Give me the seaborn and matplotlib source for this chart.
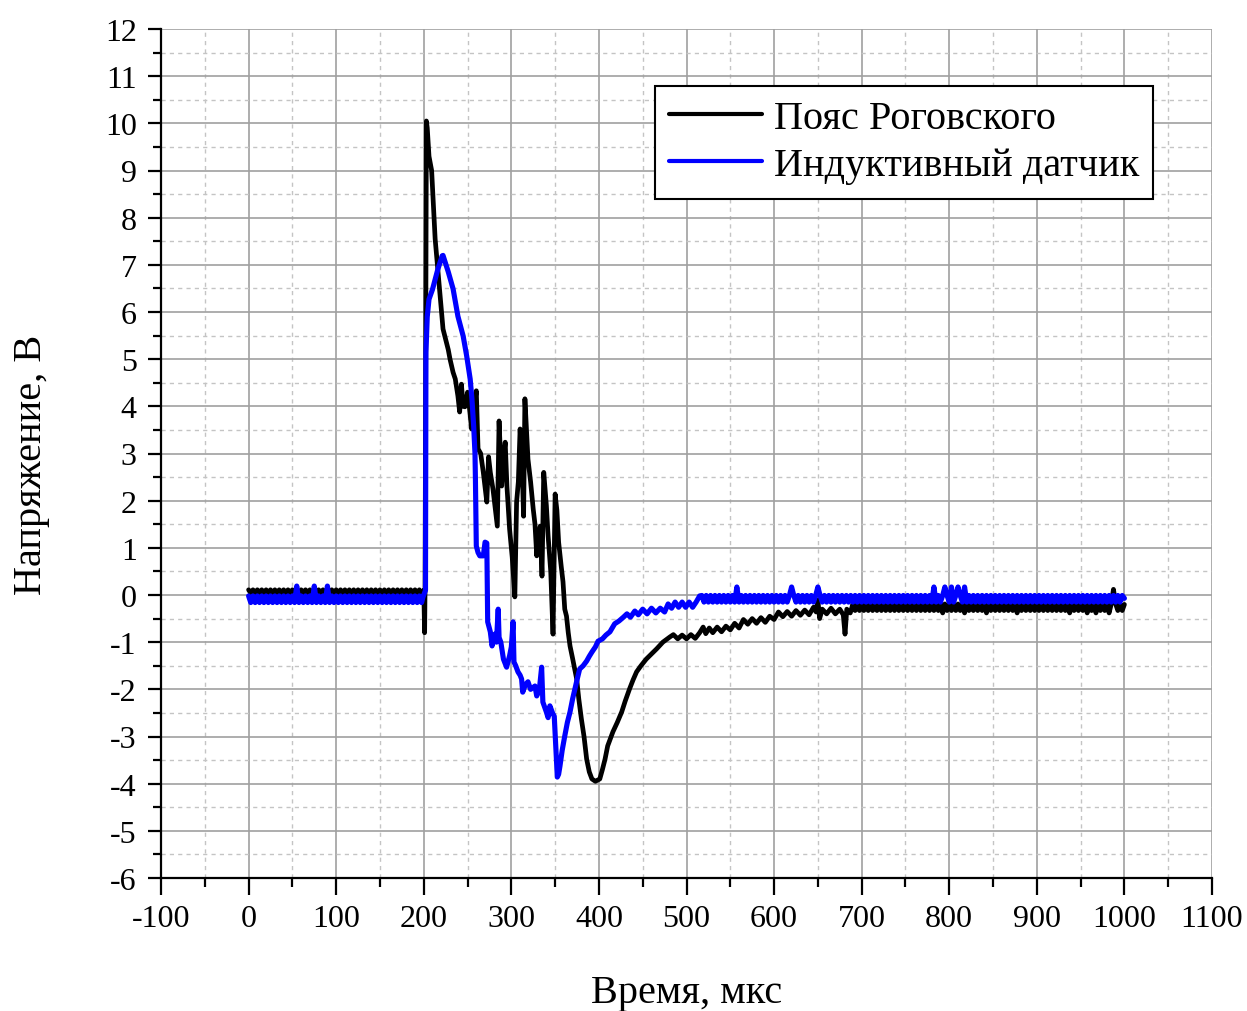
import numpy as np
import pandas as pd
import seaborn as sns
import matplotlib
matplotlib.use("Agg")
import matplotlib.pyplot as plt
from matplotlib.ticker import MultipleLocator

# ---------------- data ----------------
series_names = ["Пояс Роговского", "Индуктивный датчик"]
series_colors = ["#000000", "#0000FF"]

# pre-trigger baseline (both probes share the time base)
base_time = [
    0, 2.5, 5, 7.5, 10, 12.5, 15, 17.5, 20, 22.5,
    25, 27.5, 30, 32.5, 35, 37.5, 40, 42.5, 45, 47.5,
    50, 52.5, 55, 57.5, 60, 62.5, 65, 67.5, 70, 72.5,
    75, 77.5, 80, 82.5, 85, 87.5, 90, 92.5, 95, 97.5,
    100, 102.5, 105, 107.5, 110, 112.5, 115, 117.5, 120, 122.5,
    125, 127.5, 130, 132.5, 135, 137.5, 140, 142.5, 145, 147.5,
    150, 152.5, 155, 157.5, 160, 162.5, 165, 167.5, 170, 172.5,
    175, 177.5, 180, 182.5, 185, 187.5, 190, 192.5, 195, 197.5,
]
rog_base_volt = [
    0.11, 0.04, 0.11, 0.04, 0.11, 0.04, 0.11, 0.04, 0.11, 0.04,
    0.11, 0.04, 0.11, 0.04, 0.11, 0.04, 0.11, 0.04, 0.11, 0.04,
    0.11, 0.04, 0.11, 0.04, 0.11, 0.04, 0.11, 0.04, 0.11, 0.04,
    0.11, 0.04, 0.11, 0.04, 0.11, 0.04, 0.11, 0.04, 0.11, 0.04,
    0.11, 0.04, 0.11, 0.04, 0.11, 0.04, 0.11, 0.04, 0.11, 0.04,
    0.11, 0.04, 0.11, 0.04, 0.11, 0.04, 0.11, 0.04, 0.11, 0.04,
    0.11, 0.04, 0.11, 0.04, 0.11, 0.04, 0.11, 0.04, 0.11, 0.04,
    0.11, 0.04, 0.11, 0.04, 0.11, 0.04, 0.11, 0.04, 0.11, 0.04,
]
ind_base_volt = [
    -0.02, -0.16, -0.02, -0.16, -0.02, -0.16, -0.02, -0.16, -0.02, -0.16,
    -0.02, -0.16, -0.02, -0.16, -0.02, -0.16, -0.02, -0.16, -0.02, -0.16,
    -0.02, -0.16, 0.19, -0.16, -0.02, -0.16, -0.02, -0.16, -0.02, -0.16,
    0.19, -0.16, -0.02, -0.16, -0.02, -0.16, 0.19, -0.16, -0.02, -0.16,
    -0.02, -0.16, -0.02, -0.16, -0.02, -0.16, -0.02, -0.16, -0.02, -0.16,
    -0.02, -0.16, -0.02, -0.16, -0.02, -0.16, -0.02, -0.16, -0.02, -0.16,
    -0.02, -0.16, -0.02, -0.16, -0.02, -0.16, -0.02, -0.16, -0.02, -0.16,
    -0.02, -0.16, -0.02, -0.16, -0.02, -0.16, -0.02, -0.16, -0.02, -0.16,
]

# Rogowski coil: pulse and recovery
rog_main_time = [
    199, 200, 201, 201.5, 203, 204, 206, 209, 213, 218, 222, 228, 230, 233.5, 236, 239, 241, 243, 245, 247,
    250, 252, 254.6, 257, 260, 262, 265, 268, 272, 274, 276, 279, 284, 286, 289, 291, 293, 295, 298, 301,
    304, 306, 308, 310, 312, 314, 315.5, 317, 319, 322, 325, 327, 329, 331, 333, 335, 337, 340, 342, 345,
    347.6, 350, 352, 354, 357, 359, 361, 363, 365, 367, 370, 374.6, 377, 380, 383, 386, 389, 392, 396, 401,
    404, 407, 410, 413, 416, 421, 426, 430, 435, 439, 443, 448, 454, 460, 466, 473,
    481, 485, 490, 495, 500, 505, 510, 515, 519, 522, 526, 530, 535, 540, 545, 550, 555, 560, 565, 570,
    575, 580, 585, 590, 595, 600, 605, 610, 615, 620, 625, 630, 635, 640, 645, 648, 650, 652, 655, 660,
    665, 670, 675, 679, 681, 683, 687,
]
rog_main_volt = [
    0.08, 0.1, -0.8, 0.2, 10.05, 9.9, 9.3, 9.0, 7.55, 6.5, 5.64, 5.2, 5.0, 4.72, 4.58, 4.22, 3.88, 4.47, 4.0, 3.99,
    4.3, 4.0, 3.52, 3.9, 4.33, 3.1, 3.0, 2.6, 1.97, 2.93, 2.6, 2.25, 1.46, 3.69, 2.31, 2.9, 3.24, 2.3, 1.4, 0.8,
    -0.04, 1.97, 2.4, 3.52, 2.9, 1.67, 4.16, 3.6, 2.88, 2.4, 1.82, 1.5, 0.83, 1.2, 1.46, 0.4, 2.6, 1.9, 1.25, 0.5,
    -0.83, 2.14, 1.8, 1.12, 0.6, 0.28, -0.3, -0.45, -0.8, -1.08, -1.35, -1.78, -2.2, -2.63, -3.0, -3.48, -3.75, -3.9, -3.95, -3.9,
    -3.7, -3.48, -3.2, -3.05, -2.9, -2.7, -2.48, -2.25, -1.99, -1.8, -1.63, -1.5, -1.36, -1.25, -1.14, -1.0,
    -0.89, -0.84, -0.93, -0.85, -0.93, -0.84, -0.92, -0.8, -0.68, -0.82, -0.7, -0.8, -0.68, -0.78, -0.66, -0.74, -0.6, -0.7, -0.52, -0.62,
    -0.5, -0.6, -0.48, -0.58, -0.45, -0.52, -0.36, -0.46, -0.35, -0.45, -0.33, -0.43, -0.32, -0.42, -0.26, -0.36, -0.1, -0.5, -0.3, -0.4,
    -0.28, -0.4, -0.3, -0.42, -0.83, -0.3, -0.38,
]

# Rogowski coil: late tail
rog_tail_time = [
    690, 692.5, 695, 697.5, 700, 702.5, 705, 707.5, 710, 712.5,
    715, 717.5, 720, 722.5, 725, 727.5, 730, 732.5, 735, 737.5,
    740, 742.5, 745, 747.5, 750, 752.5, 755, 757.5, 760, 762.5,
    765, 767.5, 770, 772.5, 775, 777.5, 780, 782.5, 785, 787.5,
    790, 792.5, 795, 797.5, 800, 802.5, 805, 807.5, 810, 812.5,
    815, 817.5, 820, 822.5, 825, 827.5, 830, 832.5, 835, 837.5,
    840, 842.5, 845, 847.5, 850, 852.5, 855, 857.5, 860, 862.5,
    865, 867.5, 870, 872.5, 875, 877.5, 880, 882.5, 885, 887.5,
    890, 892.5, 895, 897.5, 900, 902.5, 905, 907.5, 910, 912.5,
    915, 917.5, 920, 922.5, 925, 927.5, 930, 932.5, 935, 937.5,
    940, 942.5, 945, 947.5, 950, 952.5, 955, 957.5, 960, 962.5,
    965, 967.5, 970, 972.5, 975, 977.5, 980, 982.5, 985, 987.5,
    990, 992.5, 995, 997.5, 1000,
]
rog_tail_volt = [
    -0.19, -0.33, -0.19, -0.33, -0.19, -0.33, -0.19, -0.33, -0.19, -0.33,
    -0.19, -0.33, -0.19, -0.33, -0.19, -0.33, -0.19, -0.33, -0.19, -0.33,
    -0.19, -0.33, -0.19, -0.33, -0.19, -0.33, -0.19, -0.33, -0.19, -0.33,
    -0.19, -0.33, -0.19, -0.33, -0.19, -0.33, -0.19, -0.33, -0.19, -0.33,
    -0.19, -0.38, -0.19, -0.33, -0.19, -0.33, -0.19, -0.33, -0.19, -0.33,
    -0.19, -0.38, -0.19, -0.33, -0.19, -0.33, -0.19, -0.33, -0.19, -0.33,
    -0.19, -0.38, -0.19, -0.33, -0.19, -0.33, -0.19, -0.33, -0.19, -0.33,
    -0.19, -0.33, -0.19, -0.33, -0.19, -0.38, -0.19, -0.33, -0.19, -0.33,
    -0.19, -0.33, -0.19, -0.33, -0.19, -0.33, -0.19, -0.33, -0.19, -0.33,
    -0.19, -0.33, -0.19, -0.33, -0.19, -0.33, -0.19, -0.33, -0.19, -0.38,
    -0.19, -0.33, -0.19, -0.33, -0.19, -0.33, -0.19, -0.38, -0.19, -0.33,
    -0.19, -0.38, -0.19, -0.33, -0.19, -0.33, -0.19, -0.38, -0.19, 0.12,
    -0.19, -0.33, -0.19, -0.33, -0.2,
]

# inductive sensor: pulse and recovery
ind_main_time = [
    199, 200, 202, 202.5, 204, 206, 210, 216, 221, 222, 228, 233.5, 239, 245, 249, 253, 255, 257, 258.5, 259,
    260, 262, 264, 268, 270, 272, 273, 276, 278, 281, 283, 285, 286, 288, 291, 294.6, 298, 300, 302, 303,
    305, 307.6, 310, 311.7, 313, 316, 319, 322, 327, 329, 332, 334.6, 336, 340, 342, 344, 347, 349, 351, 352.5,
    354, 355.5, 358, 361, 364, 367, 370, 372.6, 375, 378, 382, 386, 389, 392, 396, 399, 404, 408, 412.6, 418,
    423, 428, 432, 436, 441, 445, 450, 455, 460, 465, 470, 475, 479, 483, 487, 491, 495, 499, 503, 507, 511, 515,
]
ind_main_volt = [
    -0.05, 0.0, 0.1, 5.15, 5.9, 6.27, 6.48, 6.9, 7.19, 7.2, 6.85, 6.49, 5.91, 5.49, 5.07, 4.58, 4.16, 3.58, 3.0, 2.46,
    1.04, 0.9, 0.83, 0.83, 1.12, 1.1, -0.57, -0.78, -1.08, -0.83, -1.0, -0.3, -0.9, -1.0, -1.36, -1.53, -1.29, -1.1, -0.57, -1.42,
    -1.5, -1.63, -1.7, -1.78, -2.06, -1.9, -1.84, -2.0, -1.93, -2.14, -2.0, -1.53, -2.27, -2.48, -2.6, -2.35, -2.5, -2.57, -3.33, -3.86,
    -3.8, -3.63, -3.3, -2.99, -2.7, -2.48, -2.2, -1.99, -1.8, -1.57, -1.5, -1.4, -1.3, -1.21, -1.1, -0.98, -0.93, -0.85, -0.78, -0.61,
    -0.55, -0.47, -0.4, -0.47, -0.34, -0.42, -0.3, -0.4, -0.28, -0.38, -0.28, -0.36, -0.19, -0.28, -0.15, -0.26, -0.15, -0.26, -0.15, -0.26, -0.15, -0.02,
]

# inductive sensor: late tail
ind_tail_time = [
    517.5, 520, 522.5, 525, 527.5, 530, 532.5, 535, 537.5, 540,
    542.5, 545, 547.5, 550, 552.5, 555, 557.5, 560, 562.5, 565,
    567.5, 570, 572.5, 575, 577.5, 580, 582.5, 585, 587.5, 590,
    592.5, 595, 597.5, 600, 602.5, 605, 607.5, 610, 612.5, 615,
    617.5, 620, 622.5, 625, 627.5, 630, 632.5, 635, 637.5, 640,
    642.5, 645, 647.5, 650, 652.5, 655, 657.5, 660, 662.5, 665,
    667.5, 670, 672.5, 675, 677.5, 680, 682.5, 685, 687.5, 690,
    692.5, 695, 697.5, 700, 702.5, 705, 707.5, 710, 712.5, 715,
    717.5, 720, 722.5, 725, 727.5, 730, 732.5, 735, 737.5, 740,
    742.5, 745, 747.5, 750, 752.5, 755, 757.5, 760, 762.5, 765,
    767.5, 770, 772.5, 775, 777.5, 780, 782.5, 785, 787.5, 790,
    792.5, 795, 797.5, 800, 802.5, 805, 807.5, 810, 812.5, 815,
    817.5, 820, 822.5, 825, 827.5, 830, 832.5, 835, 837.5, 840,
    842.5, 845, 847.5, 850, 852.5, 855, 857.5, 860, 862.5, 865,
    867.5, 870, 872.5, 875, 877.5, 880, 882.5, 885, 887.5, 890,
    892.5, 895, 897.5, 900, 902.5, 905, 907.5, 910, 912.5, 915,
    917.5, 920, 922.5, 925, 927.5, 930, 932.5, 935, 937.5, 940,
    942.5, 945, 947.5, 950, 952.5, 955, 957.5, 960, 962.5, 965,
    967.5, 970, 972.5, 975, 977.5, 980, 982.5, 985, 987.5, 990,
    992.5, 995, 997.5, 1000,
]
ind_tail_volt = [
    -0.01, -0.15, -0.01, -0.15, -0.01, -0.15, -0.01, -0.15, -0.01, -0.15,
    -0.01, -0.15, -0.01, -0.15, -0.01, -0.15, 0.17, -0.15, -0.01, -0.15,
    -0.01, -0.15, -0.01, -0.15, -0.01, -0.15, -0.01, -0.15, -0.01, -0.15,
    -0.01, -0.15, -0.01, -0.15, -0.01, -0.15, -0.01, -0.15, -0.01, -0.15,
    -0.01, 0.17, -0.01, -0.15, -0.01, -0.15, -0.01, -0.15, -0.01, -0.15,
    -0.01, -0.15, -0.01, 0.17, -0.01, -0.15, -0.01, -0.15, -0.01, -0.15,
    -0.01, -0.15, -0.01, -0.15, -0.01, -0.15, -0.01, -0.15, -0.01, -0.15,
    -0.01, -0.15, -0.01, -0.15, -0.01, -0.15, -0.01, -0.15, -0.01, -0.15,
    -0.01, -0.15, -0.01, -0.15, -0.01, -0.15, -0.01, -0.15, -0.01, -0.15,
    -0.01, -0.15, -0.01, -0.15, -0.01, -0.15, -0.01, -0.15, -0.01, -0.15,
    -0.01, -0.15, -0.01, -0.15, -0.01, -0.15, 0.17, -0.15, -0.01, -0.15,
    -0.01, 0.17, -0.01, -0.15, 0.17, -0.15, -0.01, 0.17, -0.01, -0.15,
    0.17, -0.15, -0.01, -0.15, -0.01, -0.15, -0.01, -0.15, -0.01, -0.15,
    -0.01, -0.15, -0.01, -0.15, -0.01, -0.15, -0.01, -0.15, -0.01, -0.15,
    -0.01, -0.15, -0.01, -0.15, -0.01, -0.15, -0.01, -0.15, -0.01, -0.15,
    -0.01, -0.15, -0.01, -0.15, -0.01, -0.15, -0.01, -0.15, -0.01, -0.15,
    -0.01, -0.15, -0.01, -0.15, -0.01, -0.15, -0.01, -0.15, -0.01, -0.15,
    -0.01, -0.15, -0.01, -0.15, -0.01, -0.15, -0.01, -0.15, -0.01, -0.15,
    -0.01, -0.15, -0.01, -0.15, -0.01, -0.15, -0.01, -0.15, -0.01, -0.15,
    -0.01, -0.15, -0.01, -0.07,
]

x_label = "Время, мкс"
y_label = "Напряжение, В"

# ---------------- styling ----------------
sns.set_theme(style="white")
plt.rcParams["font.family"] = ["Liberation Serif", "DejaVu Serif"]
plt.rcParams["axes.unicode_minus"] = False
for key in ["text.color", "axes.labelcolor", "xtick.color", "ytick.color"]:
    plt.rcParams[key] = "black"

fig = plt.figure(figsize=(12.47, 10.12), dpi=100)
ax = fig.add_axes([161 / 1247, 1 - 879 / 1012, (1212 - 161) / 1247, (879 - 30) / 1012])

df_rog = pd.DataFrame({"t": base_time + rog_main_time + rog_tail_time,
                       "v": rog_base_volt + rog_main_volt + rog_tail_volt})
df_ind = pd.DataFrame({"t": base_time + ind_main_time + ind_tail_time,
                       "v": ind_base_volt + ind_main_volt + ind_tail_volt})

sns.lineplot(data=df_rog, x="t", y="v", ax=ax, estimator=None, sort=False,
             color=series_colors[0], linewidth=3.4, label=series_names[0], zorder=3)
sns.lineplot(data=df_ind, x="t", y="v", ax=ax, estimator=None, sort=False,
             color=series_colors[1], linewidth=3.7, label=series_names[1], zorder=4)

ax.set_xlim(-100, 1100)
ax.set_ylim(-6, 12)
ax.xaxis.set_major_locator(MultipleLocator(100))
ax.xaxis.set_minor_locator(MultipleLocator(50))
ax.yaxis.set_major_locator(MultipleLocator(1))
ax.yaxis.set_minor_locator(MultipleLocator(0.5))

ax.grid(which="major", color="#a0a0a0", linewidth=1.2, linestyle="-")
ax.grid(which="minor", color="#c4c4c4", linewidth=1.0, linestyle=(0, (3, 3)))
ax.set_axisbelow(True)

for side in ["top", "right"]:
    ax.spines[side].set_visible(False)
for side in ["left", "bottom"]:
    ax.spines[side].set_color("black")
    ax.spines[side].set_linewidth(1.6)

ax.tick_params(axis="x", which="major", direction="out", length=12, width=1.6,
               color="black", labelcolor="black", labelsize=23, pad=7, bottom=True)
ax.tick_params(axis="x", which="minor", direction="out", length=6.5, width=1.6,
               color="black", bottom=True)
ax.tick_params(axis="y", which="major", direction="out", length=9.5, width=1.6,
               color="black", labelcolor="black", labelsize=23, pad=8, left=True)
ax.tick_params(axis="y", which="minor", direction="out", length=5.5, width=1.6,
               color="black", left=True)

ax.set_xlabel(x_label, fontsize=29, color="black")
ax.set_ylabel(y_label, fontsize=29, color="black")
ax.xaxis.set_label_coords(0.5, -0.113)
ax.yaxis.set_label_coords(-0.106, 0.488)

leg = ax.legend(loc="upper right", bbox_to_anchor=(0.944, 0.933), borderaxespad=0,
                prop={"size": 29}, frameon=True, fancybox=False, framealpha=1,
                edgecolor="black", handlelength=2.3, handletextpad=0.3,
                borderpad=0.35, labelspacing=0.25)
leg.get_frame().set_linewidth(1.5)
for line in leg.get_lines():
    line.set_linewidth(3)
for txt in leg.get_texts():
    txt.set_color("black")

fig.savefig("out.png", dpi=100)
